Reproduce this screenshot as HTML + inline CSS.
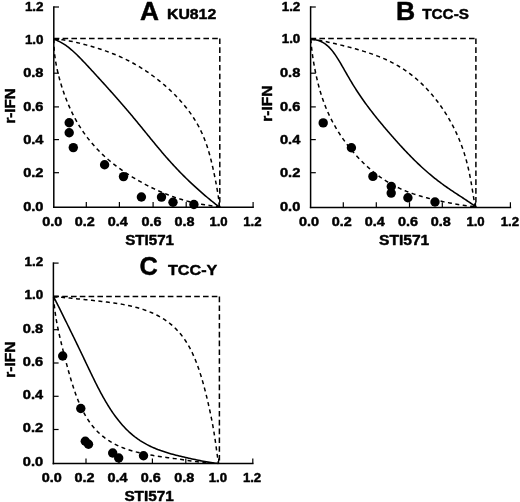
<!DOCTYPE html>
<html><head><meta charset="utf-8"><title>Isobolograms</title>
<style>
html,body{margin:0;padding:0;background:#fff;}
body{width:520px;height:502px;overflow:hidden;}
svg{display:block;}
text{font-family:"Liberation Sans",sans-serif;font-weight:bold;fill:#000;stroke:#000;stroke-width:0.45px;stroke-linejoin:round;}
</style></head><body>
<svg width="520" height="502" viewBox="0 0 520 502">
<defs><filter id="soft" x="0" y="0" width="520" height="502" filterUnits="userSpaceOnUse"><feGaussianBlur stdDeviation="0.3"/></filter></defs>
<rect x="0" y="0" width="520" height="502" fill="#fff"/>
<g filter="url(#soft)">
<line x1="53.80" y1="6.25" x2="53.80" y2="207.95" stroke="#000" stroke-width="1.50"/>
<line x1="53.05" y1="207.20" x2="253.85" y2="207.20" stroke="#000" stroke-width="1.50"/>
<line x1="86.30" y1="207.20" x2="86.30" y2="202.00" stroke="#000" stroke-width="1.20"/>
<line x1="119.40" y1="207.20" x2="119.40" y2="202.00" stroke="#000" stroke-width="1.20"/>
<line x1="153.10" y1="207.20" x2="153.10" y2="202.00" stroke="#000" stroke-width="1.20"/>
<line x1="186.20" y1="207.20" x2="186.20" y2="202.00" stroke="#000" stroke-width="1.20"/>
<line x1="219.30" y1="207.20" x2="219.30" y2="202.00" stroke="#000" stroke-width="1.20"/>
<line x1="253.10" y1="207.20" x2="253.10" y2="202.00" stroke="#000" stroke-width="1.20"/>
<line x1="53.80" y1="172.70" x2="59.00" y2="172.70" stroke="#000" stroke-width="1.20"/>
<line x1="53.80" y1="139.60" x2="59.00" y2="139.60" stroke="#000" stroke-width="1.20"/>
<line x1="53.80" y1="106.90" x2="59.00" y2="106.90" stroke="#000" stroke-width="1.20"/>
<line x1="53.80" y1="73.20" x2="59.00" y2="73.20" stroke="#000" stroke-width="1.20"/>
<line x1="53.80" y1="39.40" x2="59.00" y2="39.40" stroke="#000" stroke-width="1.20"/>
<line x1="53.80" y1="7.00" x2="59.00" y2="7.00" stroke="#000" stroke-width="1.20"/>
<line x1="53.80" y1="38.50" x2="220.40" y2="38.50" stroke="#000" stroke-width="1.50" stroke-dasharray="5.6 3.2"/>
<line x1="219.80" y1="38.50" x2="219.80" y2="207.20" stroke="#000" stroke-width="1.50" stroke-dasharray="5.6 3.2"/>
<path d="M53.90,39.30 L55.22,39.27 L56.61,39.29 L58.05,39.37 L59.54,39.48 L61.07,39.64 L62.64,39.83 L64.24,40.06 L65.86,40.32 L67.51,40.60 L69.17,40.91 L70.85,41.24 L72.54,41.59 L74.23,41.95 L75.93,42.33 L77.63,42.73 L79.33,43.14 L81.02,43.56 L82.71,43.99 L84.40,44.43 L86.08,44.88 L87.74,45.34 L89.40,45.81 L91.05,46.28 L92.69,46.76 L94.31,47.25 L95.93,47.74 L97.53,48.25 L99.12,48.75 L100.69,49.27 L102.26,49.79 L103.81,50.32 L105.35,50.86 L106.87,51.41 L108.39,51.96 L109.90,52.52 L111.39,53.10 L112.87,53.68 L114.35,54.27 L115.81,54.87 L117.26,55.48 L118.71,56.10 L120.15,56.73 L121.58,57.38 L123.00,58.03 L124.42,58.70 L125.83,59.38 L127.23,60.08 L128.63,60.78 L130.02,61.50 L131.41,62.24 L132.79,62.99 L134.17,63.75 L135.55,64.53 L136.92,65.32 L138.28,66.13 L139.65,66.95 L141.01,67.79 L142.36,68.64 L143.72,69.51 L145.07,70.39 L146.41,71.29 L147.76,72.20 L149.10,73.13 L150.43,74.08 L151.76,75.03 L153.09,76.01 L154.41,76.99 L155.73,77.99 L157.04,79.01 L158.35,80.04 L159.65,81.08 L160.94,82.14 L162.23,83.21 L163.50,84.29 L164.77,85.39 L166.04,86.50 L167.29,87.62 L168.53,88.75 L169.77,89.89 L170.99,91.05 L172.20,92.21 L173.40,93.39 L174.59,94.57 L175.77,95.77 L176.93,96.98 L178.07,98.19 L179.21,99.42 L180.32,100.65 L181.43,101.89 L182.51,103.14 L183.58,104.40 L184.63,105.66 L185.67,106.94 L186.69,108.22 L187.68,109.51 L188.66,110.80 L189.63,112.10 L190.57,113.41 L191.49,114.73 L192.39,116.05 L193.27,117.38 L194.14,118.72 L194.98,120.06 L195.80,121.41 L196.60,122.77 L197.39,124.14 L198.15,125.51 L198.89,126.89 L199.61,128.27 L200.31,129.67 L201.00,131.07 L201.66,132.48 L202.31,133.90 L202.93,135.32 L203.54,136.76 L204.13,138.20 L204.71,139.66 L205.27,141.12 L205.81,142.59 L206.33,144.08 L206.85,145.57 L207.34,147.07 L207.83,148.59 L208.30,150.11 L208.76,151.65 L209.21,153.20 L209.64,154.76 L210.07,156.33 L210.49,157.91 L210.90,159.51 L211.30,161.11 L211.69,162.73 L212.08,164.35 L212.45,165.99 L212.83,167.64 L213.20,169.30 L213.56,170.97 L213.92,172.64 L214.27,174.33 L214.62,176.02 L214.96,177.71 L215.30,179.41 L215.63,181.11 L215.96,182.82 L216.28,184.52 L216.60,186.22 L216.90,187.92 L217.20,189.61 L217.49,191.28 L217.76,192.95 L218.02,194.60 L218.27,196.22 L218.49,197.83 L218.70,199.41 L218.88,200.95 L219.04,202.46 L219.16,203.92 L219.25,205.34 L219.30,206.70" fill="none" stroke="#000" stroke-width="1.50" stroke-linejoin="round" stroke-dasharray="4.0 3.5"/>
<path d="M53.90,39.30 L53.88,41.05 L53.88,42.77 L53.92,44.47 L53.98,46.15 L54.06,47.81 L54.17,49.44 L54.29,51.07 L54.44,52.68 L54.62,54.28 L54.80,55.87 L55.01,57.45 L55.24,59.02 L55.48,60.59 L55.74,62.16 L56.02,63.72 L56.31,65.27 L56.62,66.83 L56.94,68.38 L57.28,69.93 L57.63,71.48 L57.99,73.03 L58.37,74.58 L58.76,76.13 L59.17,77.68 L59.58,79.23 L60.02,80.78 L60.46,82.33 L60.92,83.88 L61.39,85.43 L61.87,86.98 L62.37,88.52 L62.88,90.07 L63.41,91.61 L63.94,93.16 L64.49,94.70 L65.06,96.23 L65.63,97.77 L66.22,99.30 L66.83,100.83 L67.45,102.35 L68.08,103.87 L68.72,105.38 L69.38,106.89 L70.06,108.39 L70.75,109.88 L71.45,111.37 L72.16,112.85 L72.90,114.32 L73.64,115.79 L74.40,117.24 L75.18,118.69 L75.96,120.13 L76.77,121.55 L77.59,122.97 L78.42,124.38 L79.27,125.78 L80.13,127.16 L81.01,128.54 L81.90,129.90 L82.81,131.26 L83.73,132.60 L84.66,133.92 L85.61,135.24 L86.58,136.55 L87.56,137.84 L88.55,139.12 L89.56,140.38 L90.58,141.64 L91.61,142.88 L92.66,144.11 L93.73,145.33 L94.80,146.53 L95.89,147.72 L96.99,148.90 L98.11,150.06 L99.24,151.21 L100.38,152.35 L101.53,153.48 L102.70,154.60 L103.88,155.70 L105.07,156.79 L106.27,157.86 L107.48,158.93 L108.71,159.98 L109.94,161.03 L111.19,162.06 L112.44,163.07 L113.71,164.08 L114.99,165.08 L116.27,166.06 L117.57,167.03 L118.87,167.99 L120.18,168.95 L121.51,169.89 L122.84,170.82 L124.18,171.74 L125.52,172.64 L126.88,173.54 L128.24,174.43 L129.61,175.31 L130.99,176.18 L132.37,177.03 L133.77,177.88 L135.16,178.72 L136.57,179.55 L137.98,180.37 L139.39,181.17 L140.82,181.97 L142.24,182.76 L143.68,183.54 L145.11,184.30 L146.56,185.06 L148.01,185.81 L149.46,186.55 L150.92,187.27 L152.38,187.99 L153.85,188.69 L155.32,189.39 L156.80,190.07 L158.28,190.74 L159.76,191.40 L161.25,192.05 L162.75,192.69 L164.24,193.31 L165.75,193.93 L167.25,194.53 L168.76,195.12 L170.28,195.69 L171.79,196.25 L173.32,196.80 L174.84,197.34 L176.37,197.86 L177.91,198.36 L179.45,198.86 L180.99,199.34 L182.54,199.80 L184.09,200.25 L185.64,200.69 L187.20,201.11 L188.77,201.51 L190.34,201.91 L191.91,202.28 L193.49,202.64 L195.07,202.99 L196.66,203.32 L198.25,203.64 L199.84,203.95 L201.44,204.24 L203.05,204.51 L204.66,204.78 L206.27,205.03 L207.89,205.27 L209.51,205.50 L211.13,205.72 L212.76,205.93 L214.39,206.13 L216.02,206.33 L217.66,206.52 L219.30,206.70" fill="none" stroke="#000" stroke-width="1.50" stroke-linejoin="round" stroke-dasharray="4.0 3.5"/>
<path d="M53.90,39.30 L55.38,39.80 L56.81,40.36 L58.21,40.97 L59.57,41.63 L60.89,42.32 L62.19,43.06 L63.46,43.83 L64.70,44.64 L65.92,45.48 L67.11,46.34 L68.29,47.23 L69.44,48.15 L70.58,49.09 L71.71,50.04 L72.82,51.02 L73.92,52.01 L75.00,53.01 L76.08,54.03 L77.15,55.06 L78.21,56.10 L79.26,57.15 L80.31,58.20 L81.35,59.27 L82.38,60.34 L83.41,61.42 L84.44,62.50 L85.46,63.58 L86.48,64.67 L87.50,65.76 L88.51,66.85 L89.53,67.95 L90.54,69.05 L91.55,70.15 L92.56,71.25 L93.56,72.35 L94.57,73.45 L95.58,74.55 L96.58,75.66 L97.59,76.76 L98.59,77.87 L99.59,78.97 L100.60,80.07 L101.60,81.18 L102.60,82.28 L103.60,83.39 L104.60,84.49 L105.60,85.60 L106.60,86.70 L107.59,87.81 L108.59,88.92 L109.59,90.02 L110.58,91.13 L111.57,92.24 L112.56,93.35 L113.55,94.46 L114.54,95.58 L115.53,96.69 L116.51,97.80 L117.50,98.92 L118.48,100.04 L119.46,101.16 L120.44,102.28 L121.41,103.40 L122.39,104.52 L123.36,105.65 L124.33,106.77 L125.30,107.90 L126.27,109.03 L127.23,110.17 L128.20,111.30 L129.16,112.44 L130.11,113.58 L131.07,114.71 L132.03,115.86 L132.98,117.00 L133.93,118.14 L134.88,119.29 L135.83,120.44 L136.78,121.59 L137.73,122.74 L138.67,123.89 L139.62,125.04 L140.56,126.19 L141.50,127.35 L142.44,128.50 L143.38,129.66 L144.32,130.81 L145.26,131.97 L146.21,133.12 L147.15,134.28 L148.09,135.43 L149.03,136.59 L149.97,137.74 L150.91,138.90 L151.85,140.05 L152.80,141.20 L153.74,142.36 L154.69,143.50 L155.64,144.65 L156.59,145.80 L157.54,146.94 L158.50,148.09 L159.45,149.23 L160.41,150.37 L161.37,151.50 L162.34,152.63 L163.30,153.76 L164.27,154.89 L165.25,156.02 L166.23,157.14 L167.21,158.26 L168.19,159.37 L169.18,160.48 L170.17,161.59 L171.17,162.69 L172.17,163.79 L173.17,164.89 L174.18,165.98 L175.19,167.07 L176.21,168.15 L177.23,169.23 L178.25,170.31 L179.28,171.38 L180.32,172.45 L181.36,173.51 L182.40,174.57 L183.45,175.62 L184.51,176.67 L185.57,177.72 L186.63,178.76 L187.70,179.80 L188.77,180.83 L189.85,181.86 L190.93,182.89 L192.01,183.91 L193.10,184.92 L194.20,185.93 L195.30,186.94 L196.40,187.94 L197.51,188.94 L198.62,189.94 L199.74,190.93 L200.86,191.92 L201.98,192.90 L203.11,193.87 L204.24,194.85 L205.38,195.82 L206.51,196.78 L207.66,197.74 L208.80,198.69 L209.96,199.64 L211.11,200.58 L212.27,201.52 L213.43,202.45 L214.60,203.37 L215.77,204.29 L216.94,205.20 L218.12,206.11 L219.30,207.00" fill="none" stroke="#000" stroke-width="1.55" stroke-linejoin="round"/>
<circle cx="69.20" cy="122.80" r="4.70" fill="#000"/>
<circle cx="69.20" cy="132.80" r="4.70" fill="#000"/>
<circle cx="73.30" cy="147.60" r="4.70" fill="#000"/>
<circle cx="104.60" cy="164.70" r="4.70" fill="#000"/>
<circle cx="123.50" cy="176.60" r="4.70" fill="#000"/>
<circle cx="141.40" cy="197.00" r="4.70" fill="#000"/>
<circle cx="161.50" cy="197.10" r="4.70" fill="#000"/>
<circle cx="173.00" cy="202.30" r="4.70" fill="#000"/>
<circle cx="193.90" cy="204.50" r="4.70" fill="#000"/>
<text x="42.20" y="225.80" font-size="12.10" textLength="20.00" lengthAdjust="spacingAndGlyphs">0.0</text>
<text x="74.70" y="225.80" font-size="12.10" textLength="20.00" lengthAdjust="spacingAndGlyphs">0.2</text>
<text x="107.80" y="225.80" font-size="12.10" textLength="20.00" lengthAdjust="spacingAndGlyphs">0.4</text>
<text x="141.50" y="225.80" font-size="12.10" textLength="20.00" lengthAdjust="spacingAndGlyphs">0.6</text>
<text x="174.60" y="225.80" font-size="12.10" textLength="20.00" lengthAdjust="spacingAndGlyphs">0.8</text>
<text x="209.40" y="225.80" font-size="12.10" textLength="18.30" lengthAdjust="spacingAndGlyphs">1.0</text>
<text x="243.20" y="225.80" font-size="12.10" textLength="18.30" lengthAdjust="spacingAndGlyphs">1.2</text>
<text x="23.20" y="211.35" font-size="12.10" textLength="20.30" lengthAdjust="spacingAndGlyphs">0.0</text>
<text x="23.20" y="176.85" font-size="12.10" textLength="20.30" lengthAdjust="spacingAndGlyphs">0.2</text>
<text x="23.20" y="143.75" font-size="12.10" textLength="20.30" lengthAdjust="spacingAndGlyphs">0.4</text>
<text x="23.20" y="111.05" font-size="12.10" textLength="20.30" lengthAdjust="spacingAndGlyphs">0.6</text>
<text x="23.20" y="77.35" font-size="12.10" textLength="20.30" lengthAdjust="spacingAndGlyphs">0.8</text>
<text x="24.90" y="43.55" font-size="12.10" textLength="18.60" lengthAdjust="spacingAndGlyphs">1.0</text>
<text x="24.90" y="11.15" font-size="12.10" textLength="18.60" lengthAdjust="spacingAndGlyphs">1.2</text>
<text x="125.20" y="245.20" font-size="14.00" textLength="48.80" lengthAdjust="spacingAndGlyphs">STI571</text>
<text x="0" y="0" font-size="15" textLength="35.40" lengthAdjust="spacingAndGlyphs" transform="translate(15.30,123.60) rotate(-90)">r-IFN</text>
<text x="140.00" y="19.60" font-size="25" textLength="19.00" lengthAdjust="spacingAndGlyphs">A</text>
<text x="167.00" y="19.00" font-size="14.80" textLength="49.20" lengthAdjust="spacingAndGlyphs">KU812</text>
<line x1="310.60" y1="6.25" x2="310.60" y2="208.15" stroke="#000" stroke-width="1.50"/>
<line x1="309.85" y1="207.40" x2="511.15" y2="207.40" stroke="#000" stroke-width="1.50"/>
<line x1="343.30" y1="207.40" x2="343.30" y2="202.20" stroke="#000" stroke-width="1.20"/>
<line x1="376.30" y1="207.40" x2="376.30" y2="202.20" stroke="#000" stroke-width="1.20"/>
<line x1="409.50" y1="207.40" x2="409.50" y2="202.20" stroke="#000" stroke-width="1.20"/>
<line x1="442.30" y1="207.40" x2="442.30" y2="202.20" stroke="#000" stroke-width="1.20"/>
<line x1="475.50" y1="207.40" x2="475.50" y2="202.20" stroke="#000" stroke-width="1.20"/>
<line x1="510.40" y1="207.40" x2="510.40" y2="202.20" stroke="#000" stroke-width="1.20"/>
<line x1="310.60" y1="172.70" x2="315.80" y2="172.70" stroke="#000" stroke-width="1.20"/>
<line x1="310.60" y1="139.60" x2="315.80" y2="139.60" stroke="#000" stroke-width="1.20"/>
<line x1="310.60" y1="106.90" x2="315.80" y2="106.90" stroke="#000" stroke-width="1.20"/>
<line x1="310.60" y1="73.20" x2="315.80" y2="73.20" stroke="#000" stroke-width="1.20"/>
<line x1="310.60" y1="39.40" x2="315.80" y2="39.40" stroke="#000" stroke-width="1.20"/>
<line x1="310.60" y1="7.00" x2="315.80" y2="7.00" stroke="#000" stroke-width="1.20"/>
<line x1="310.60" y1="38.50" x2="476.50" y2="38.50" stroke="#000" stroke-width="1.50" stroke-dasharray="5.6 3.2"/>
<line x1="475.90" y1="38.50" x2="475.90" y2="207.40" stroke="#000" stroke-width="1.50" stroke-dasharray="5.6 3.2"/>
<path d="M310.90,39.30 L312.49,39.45 L314.08,39.62 L315.67,39.83 L317.26,40.06 L318.84,40.31 L320.43,40.58 L322.01,40.87 L323.60,41.17 L325.18,41.48 L326.77,41.81 L328.36,42.15 L329.94,42.49 L331.53,42.85 L333.12,43.21 L334.70,43.58 L336.29,43.95 L337.88,44.33 L339.46,44.72 L341.05,45.11 L342.64,45.50 L344.22,45.90 L345.81,46.31 L347.39,46.71 L348.97,47.13 L350.55,47.55 L352.13,47.97 L353.71,48.40 L355.29,48.83 L356.86,49.28 L358.43,49.72 L360.00,50.18 L361.56,50.64 L363.12,51.12 L364.68,51.60 L366.23,52.09 L367.77,52.59 L369.32,53.10 L370.85,53.62 L372.39,54.15 L373.91,54.70 L375.43,55.25 L376.95,55.83 L378.45,56.41 L379.95,57.01 L381.45,57.62 L382.93,58.25 L384.41,58.89 L385.88,59.55 L387.35,60.23 L388.80,60.92 L390.25,61.62 L391.68,62.35 L393.11,63.09 L394.53,63.85 L395.94,64.63 L397.34,65.42 L398.73,66.23 L400.11,67.06 L401.48,67.91 L402.83,68.78 L404.18,69.66 L405.52,70.56 L406.85,71.49 L408.16,72.42 L409.46,73.38 L410.76,74.35 L412.04,75.34 L413.31,76.35 L414.56,77.38 L415.81,78.42 L417.04,79.48 L418.26,80.55 L419.47,81.64 L420.67,82.75 L421.85,83.87 L423.02,85.01 L424.18,86.16 L425.33,87.33 L426.46,88.51 L427.58,89.70 L428.69,90.91 L429.79,92.13 L430.87,93.36 L431.93,94.60 L432.99,95.86 L434.03,97.13 L435.06,98.41 L436.08,99.69 L437.08,100.99 L438.06,102.30 L439.04,103.62 L440.00,104.94 L440.95,106.28 L441.88,107.62 L442.80,108.97 L443.71,110.33 L444.60,111.70 L445.48,113.07 L446.34,114.45 L447.20,115.84 L448.03,117.23 L448.86,118.63 L449.67,120.03 L450.46,121.44 L451.24,122.86 L452.01,124.28 L452.76,125.71 L453.50,127.14 L454.23,128.58 L454.94,130.02 L455.64,131.47 L456.32,132.92 L456.99,134.38 L457.64,135.85 L458.28,137.32 L458.91,138.79 L459.52,140.27 L460.12,141.76 L460.70,143.25 L461.27,144.75 L461.83,146.25 L462.37,147.76 L462.90,149.27 L463.42,150.79 L463.92,152.32 L464.41,153.86 L464.89,155.40 L465.35,156.95 L465.80,158.50 L466.23,160.06 L466.66,161.63 L467.07,163.21 L467.47,164.79 L467.86,166.38 L468.23,167.97 L468.60,169.57 L468.95,171.18 L469.30,172.80 L469.63,174.42 L469.96,176.04 L470.27,177.67 L470.58,179.30 L470.88,180.94 L471.17,182.58 L471.45,184.22 L471.73,185.86 L472.00,187.50 L472.27,189.14 L472.54,190.78 L472.80,192.41 L473.06,194.03 L473.32,195.65 L473.58,197.25 L473.84,198.84 L474.10,200.42 L474.36,201.97 L474.64,203.51 L474.91,205.02 L475.20,206.50" fill="none" stroke="#000" stroke-width="1.50" stroke-linejoin="round" stroke-dasharray="4.0 3.5"/>
<path d="M310.90,39.30 L310.97,40.72 L311.06,42.19 L311.17,43.70 L311.31,45.25 L311.46,46.83 L311.64,48.43 L311.83,50.07 L312.04,51.72 L312.26,53.38 L312.49,55.06 L312.74,56.75 L313.00,58.45 L313.27,60.15 L313.56,61.85 L313.85,63.55 L314.15,65.25 L314.46,66.95 L314.78,68.64 L315.11,70.33 L315.45,72.01 L315.80,73.68 L316.15,75.34 L316.52,77.00 L316.89,78.64 L317.27,80.27 L317.67,81.90 L318.07,83.51 L318.48,85.11 L318.90,86.71 L319.33,88.29 L319.78,89.86 L320.23,91.42 L320.70,92.97 L321.17,94.51 L321.66,96.04 L322.16,97.56 L322.67,99.07 L323.20,100.57 L323.74,102.06 L324.29,103.55 L324.85,105.03 L325.43,106.50 L326.02,107.96 L326.63,109.42 L327.25,110.87 L327.89,112.31 L328.54,113.75 L329.21,115.18 L329.89,116.61 L330.59,118.03 L331.30,119.45 L332.03,120.86 L332.77,122.27 L333.54,123.67 L334.31,125.07 L335.11,126.47 L335.91,127.86 L336.74,129.24 L337.58,130.62 L338.44,132.00 L339.31,133.37 L340.20,134.74 L341.10,136.10 L342.02,137.46 L342.96,138.81 L343.91,140.16 L344.87,141.50 L345.85,142.83 L346.85,144.16 L347.86,145.48 L348.89,146.79 L349.93,148.09 L350.98,149.39 L352.05,150.68 L353.13,151.95 L354.22,153.22 L355.33,154.48 L356.45,155.73 L357.58,156.97 L358.72,158.19 L359.88,159.41 L361.05,160.61 L362.23,161.80 L363.42,162.97 L364.62,164.13 L365.84,165.28 L367.06,166.41 L368.30,167.52 L369.54,168.62 L370.80,169.71 L372.06,170.77 L373.34,171.82 L374.62,172.85 L375.92,173.87 L377.22,174.86 L378.53,175.84 L379.85,176.80 L381.18,177.74 L382.52,178.66 L383.87,179.56 L385.22,180.44 L386.59,181.31 L387.96,182.15 L389.34,182.97 L390.73,183.78 L392.13,184.56 L393.53,185.32 L394.95,186.07 L396.37,186.79 L397.80,187.50 L399.24,188.19 L400.69,188.86 L402.15,189.51 L403.61,190.14 L405.09,190.76 L406.57,191.36 L408.06,191.94 L409.56,192.50 L411.07,193.05 L412.59,193.59 L414.12,194.11 L415.66,194.61 L417.21,195.11 L418.76,195.59 L420.33,196.05 L421.90,196.51 L423.48,196.95 L425.08,197.39 L426.68,197.81 L428.29,198.22 L429.91,198.63 L431.53,199.03 L433.17,199.42 L434.81,199.80 L436.46,200.17 L438.12,200.54 L439.78,200.90 L441.45,201.26 L443.12,201.61 L444.79,201.95 L446.47,202.29 L448.15,202.62 L449.84,202.95 L451.52,203.27 L453.20,203.58 L454.88,203.89 L456.55,204.18 L458.21,204.47 L459.87,204.75 L461.52,205.01 L463.15,205.26 L464.77,205.49 L466.36,205.71 L467.94,205.91 L469.50,206.08 L471.02,206.23 L472.52,206.36 L473.98,206.45 L475.40,206.50" fill="none" stroke="#000" stroke-width="1.50" stroke-linejoin="round" stroke-dasharray="4.0 3.5"/>
<path d="M310.90,39.30 L312.72,39.41 L314.45,39.61 L316.08,39.91 L317.63,40.30 L319.11,40.77 L320.51,41.32 L321.85,41.94 L323.12,42.63 L324.34,43.38 L325.51,44.18 L326.62,45.04 L327.70,45.95 L328.73,46.91 L329.73,47.91 L330.69,48.95 L331.62,50.02 L332.53,51.13 L333.41,52.27 L334.27,53.43 L335.11,54.62 L335.94,55.83 L336.75,57.06 L337.55,58.31 L338.34,59.57 L339.12,60.85 L339.89,62.13 L340.65,63.43 L341.41,64.74 L342.17,66.05 L342.93,67.37 L343.68,68.69 L344.44,70.02 L345.19,71.34 L345.95,72.67 L346.71,74.00 L347.47,75.33 L348.24,76.65 L349.01,77.98 L349.78,79.30 L350.56,80.62 L351.35,81.93 L352.14,83.24 L352.93,84.54 L353.73,85.84 L354.54,87.14 L355.35,88.43 L356.17,89.71 L356.99,90.99 L357.82,92.26 L358.66,93.53 L359.50,94.79 L360.35,96.04 L361.20,97.29 L362.06,98.53 L362.93,99.77 L363.80,101.00 L364.68,102.22 L365.56,103.44 L366.44,104.65 L367.34,105.86 L368.23,107.07 L369.13,108.26 L370.04,109.46 L370.95,110.65 L371.86,111.83 L372.78,113.01 L373.71,114.19 L374.63,115.36 L375.56,116.53 L376.50,117.70 L377.43,118.86 L378.37,120.02 L379.32,121.17 L380.27,122.33 L381.22,123.48 L382.17,124.62 L383.13,125.77 L384.09,126.91 L385.05,128.05 L386.02,129.19 L386.99,130.33 L387.96,131.46 L388.93,132.60 L389.91,133.73 L390.89,134.86 L391.88,135.99 L392.87,137.11 L393.86,138.23 L394.85,139.36 L395.85,140.48 L396.85,141.59 L397.85,142.71 L398.86,143.82 L399.87,144.94 L400.89,146.05 L401.91,147.15 L402.93,148.26 L403.96,149.36 L404.99,150.46 L406.02,151.55 L407.06,152.64 L408.11,153.73 L409.16,154.82 L410.21,155.90 L411.27,156.98 L412.33,158.05 L413.40,159.12 L414.48,160.18 L415.56,161.24 L416.64,162.30 L417.73,163.34 L418.83,164.39 L419.93,165.42 L421.04,166.45 L422.15,167.48 L423.27,168.49 L424.40,169.51 L425.53,170.51 L426.66,171.51 L427.80,172.50 L428.95,173.48 L430.11,174.45 L431.27,175.42 L432.43,176.38 L433.60,177.33 L434.78,178.27 L435.96,179.20 L437.15,180.13 L438.34,181.05 L439.54,181.96 L440.74,182.86 L441.95,183.75 L443.16,184.64 L444.38,185.52 L445.60,186.39 L446.82,187.25 L448.05,188.11 L449.28,188.96 L450.52,189.80 L451.76,190.64 L453.00,191.47 L454.24,192.30 L455.49,193.12 L456.73,193.94 L457.98,194.76 L459.23,195.58 L460.48,196.39 L461.73,197.21 L462.98,198.02 L464.23,198.84 L465.48,199.66 L466.72,200.48 L467.97,201.31 L469.22,202.15 L470.46,203.00 L471.70,203.85 L472.93,204.72 L474.17,205.60 L475.40,206.50" fill="none" stroke="#000" stroke-width="1.55" stroke-linejoin="round"/>
<circle cx="323.20" cy="122.90" r="4.70" fill="#000"/>
<circle cx="351.40" cy="147.70" r="4.70" fill="#000"/>
<circle cx="372.90" cy="176.40" r="4.70" fill="#000"/>
<circle cx="391.30" cy="186.50" r="4.70" fill="#000"/>
<circle cx="391.20" cy="193.10" r="4.70" fill="#000"/>
<circle cx="407.90" cy="197.80" r="4.70" fill="#000"/>
<circle cx="435.00" cy="202.00" r="4.70" fill="#000"/>
<text x="299.00" y="225.80" font-size="12.10" textLength="20.00" lengthAdjust="spacingAndGlyphs">0.0</text>
<text x="331.70" y="225.80" font-size="12.10" textLength="20.00" lengthAdjust="spacingAndGlyphs">0.2</text>
<text x="364.70" y="225.80" font-size="12.10" textLength="20.00" lengthAdjust="spacingAndGlyphs">0.4</text>
<text x="397.90" y="225.80" font-size="12.10" textLength="20.00" lengthAdjust="spacingAndGlyphs">0.6</text>
<text x="430.70" y="225.80" font-size="12.10" textLength="20.00" lengthAdjust="spacingAndGlyphs">0.8</text>
<text x="466.40" y="225.80" font-size="12.10" textLength="18.30" lengthAdjust="spacingAndGlyphs">1.0</text>
<text x="500.80" y="225.80" font-size="12.10" textLength="18.30" lengthAdjust="spacingAndGlyphs">1.2</text>
<text x="280.00" y="211.45" font-size="12.10" textLength="20.30" lengthAdjust="spacingAndGlyphs">0.0</text>
<text x="280.00" y="176.75" font-size="12.10" textLength="20.30" lengthAdjust="spacingAndGlyphs">0.2</text>
<text x="280.00" y="143.65" font-size="12.10" textLength="20.30" lengthAdjust="spacingAndGlyphs">0.4</text>
<text x="280.00" y="110.95" font-size="12.10" textLength="20.30" lengthAdjust="spacingAndGlyphs">0.6</text>
<text x="280.00" y="77.25" font-size="12.10" textLength="20.30" lengthAdjust="spacingAndGlyphs">0.8</text>
<text x="281.70" y="43.45" font-size="12.10" textLength="18.60" lengthAdjust="spacingAndGlyphs">1.0</text>
<text x="281.70" y="11.05" font-size="12.10" textLength="18.60" lengthAdjust="spacingAndGlyphs">1.2</text>
<text x="379.00" y="244.60" font-size="14.00" textLength="50.20" lengthAdjust="spacingAndGlyphs">STI571</text>
<text x="0" y="0" font-size="15" textLength="36.20" lengthAdjust="spacingAndGlyphs" transform="translate(272.30,121.80) rotate(-90)">r-IFN</text>
<text x="396.10" y="19.60" font-size="25" textLength="19.20" lengthAdjust="spacingAndGlyphs">B</text>
<text x="422.20" y="19.40" font-size="14.80" textLength="46.80" lengthAdjust="spacingAndGlyphs">TCC-S</text>
<line x1="53.40" y1="262.35" x2="53.40" y2="464.35" stroke="#000" stroke-width="1.50"/>
<line x1="52.65" y1="463.60" x2="253.55" y2="463.60" stroke="#000" stroke-width="1.50"/>
<line x1="86.00" y1="463.60" x2="86.00" y2="458.40" stroke="#000" stroke-width="1.20"/>
<line x1="119.00" y1="463.60" x2="119.00" y2="458.40" stroke="#000" stroke-width="1.20"/>
<line x1="152.40" y1="463.60" x2="152.40" y2="458.40" stroke="#000" stroke-width="1.20"/>
<line x1="185.80" y1="463.60" x2="185.80" y2="458.40" stroke="#000" stroke-width="1.20"/>
<line x1="218.60" y1="463.60" x2="218.60" y2="458.40" stroke="#000" stroke-width="1.20"/>
<line x1="252.80" y1="463.60" x2="252.80" y2="458.40" stroke="#000" stroke-width="1.20"/>
<line x1="53.40" y1="429.50" x2="58.60" y2="429.50" stroke="#000" stroke-width="1.20"/>
<line x1="53.40" y1="396.30" x2="58.60" y2="396.30" stroke="#000" stroke-width="1.20"/>
<line x1="53.40" y1="363.00" x2="58.60" y2="363.00" stroke="#000" stroke-width="1.20"/>
<line x1="53.40" y1="329.70" x2="58.60" y2="329.70" stroke="#000" stroke-width="1.20"/>
<line x1="53.40" y1="296.20" x2="58.60" y2="296.20" stroke="#000" stroke-width="1.20"/>
<line x1="53.40" y1="263.10" x2="58.60" y2="263.10" stroke="#000" stroke-width="1.20"/>
<line x1="53.40" y1="296.60" x2="220.00" y2="296.60" stroke="#000" stroke-width="1.50" stroke-dasharray="5.6 3.2"/>
<line x1="219.40" y1="296.60" x2="219.40" y2="463.60" stroke="#000" stroke-width="1.50" stroke-dasharray="5.6 3.2"/>
<path d="M53.60,296.90 L55.71,297.00 L57.72,297.11 L59.66,297.23 L61.52,297.36 L63.32,297.50 L65.07,297.64 L66.77,297.79 L68.43,297.95 L70.05,298.10 L71.65,298.26 L73.23,298.42 L74.80,298.58 L76.35,298.74 L77.89,298.90 L79.43,299.06 L80.97,299.22 L82.51,299.38 L84.06,299.54 L85.61,299.70 L87.17,299.86 L88.74,300.02 L90.32,300.19 L91.91,300.35 L93.52,300.52 L95.14,300.69 L96.78,300.86 L98.42,301.04 L100.09,301.23 L101.76,301.41 L103.45,301.61 L105.15,301.81 L106.86,302.02 L108.59,302.24 L110.32,302.46 L112.07,302.70 L113.82,302.95 L115.58,303.21 L117.35,303.48 L119.12,303.77 L120.89,304.07 L122.67,304.38 L124.44,304.72 L126.22,305.06 L127.99,305.43 L129.76,305.81 L131.53,306.22 L133.28,306.64 L135.04,307.08 L136.78,307.55 L138.51,308.04 L140.23,308.54 L141.94,309.08 L143.63,309.63 L145.31,310.21 L146.97,310.82 L148.62,311.44 L150.24,312.10 L151.85,312.78 L153.44,313.49 L155.00,314.22 L156.54,314.98 L158.06,315.76 L159.56,316.58 L161.03,317.42 L162.48,318.29 L163.90,319.18 L165.30,320.11 L166.67,321.06 L168.01,322.04 L169.33,323.04 L170.62,324.08 L171.88,325.14 L173.11,326.22 L174.32,327.34 L175.50,328.48 L176.65,329.64 L177.78,330.84 L178.88,332.05 L179.95,333.30 L181.00,334.56 L182.02,335.85 L183.01,337.17 L183.98,338.51 L184.92,339.87 L185.84,341.25 L186.73,342.65 L187.60,344.08 L188.45,345.52 L189.27,346.99 L190.07,348.47 L190.86,349.97 L191.62,351.49 L192.36,353.02 L193.08,354.57 L193.78,356.14 L194.46,357.72 L195.13,359.31 L195.78,360.92 L196.41,362.53 L197.02,364.16 L197.63,365.80 L198.21,367.45 L198.79,369.10 L199.35,370.77 L199.90,372.44 L200.43,374.11 L200.96,375.80 L201.47,377.48 L201.97,379.18 L202.46,380.87 L202.95,382.57 L203.42,384.26 L203.88,385.96 L204.34,387.66 L204.79,389.36 L205.23,391.06 L205.66,392.76 L206.09,394.46 L206.51,396.15 L206.92,397.84 L207.32,399.53 L207.72,401.21 L208.11,402.89 L208.49,404.57 L208.87,406.24 L209.24,407.91 L209.61,409.57 L209.96,411.23 L210.31,412.88 L210.66,414.53 L211.00,416.18 L211.33,417.82 L211.65,419.45 L211.97,421.08 L212.28,422.71 L212.58,424.34 L212.88,425.96 L213.17,427.58 L213.45,429.20 L213.73,430.81 L213.99,432.43 L214.26,434.05 L214.51,435.67 L214.76,437.30 L215.01,438.92 L215.25,440.56 L215.49,442.20 L215.72,443.84 L215.95,445.50 L216.18,447.17 L216.41,448.85 L216.63,450.55 L216.86,452.26 L217.10,453.99 L217.34,455.74 L217.59,457.52 L217.84,459.32 L218.11,461.14 L218.40,463.00" fill="none" stroke="#000" stroke-width="1.50" stroke-linejoin="round" stroke-dasharray="4.0 3.5"/>
<path d="M53.60,296.90 L53.73,298.71 L53.87,300.50 L54.02,302.27 L54.18,304.01 L54.35,305.74 L54.54,307.44 L54.74,309.14 L54.95,310.81 L55.17,312.48 L55.40,314.13 L55.65,315.78 L55.90,317.41 L56.17,319.04 L56.45,320.66 L56.74,322.28 L57.04,323.89 L57.35,325.50 L57.67,327.11 L58.00,328.72 L58.33,330.32 L58.68,331.93 L59.03,333.54 L59.39,335.15 L59.76,336.77 L60.13,338.38 L60.51,340.01 L60.90,341.63 L61.29,343.26 L61.69,344.90 L62.09,346.54 L62.50,348.18 L62.91,349.83 L63.33,351.49 L63.75,353.15 L64.18,354.81 L64.61,356.49 L65.04,358.16 L65.48,359.84 L65.92,361.53 L66.37,363.22 L66.82,364.91 L67.28,366.61 L67.74,368.31 L68.21,370.01 L68.68,371.72 L69.16,373.42 L69.65,375.13 L70.14,376.83 L70.64,378.54 L71.15,380.24 L71.66,381.94 L72.19,383.64 L72.72,385.34 L73.26,387.03 L73.82,388.71 L74.38,390.39 L74.96,392.06 L75.54,393.72 L76.15,395.38 L76.76,397.02 L77.39,398.65 L78.03,400.28 L78.69,401.88 L79.37,403.48 L80.06,405.06 L80.77,406.63 L81.50,408.18 L82.25,409.71 L83.02,411.23 L83.80,412.72 L84.61,414.20 L85.44,415.66 L86.29,417.09 L87.17,418.51 L88.07,419.90 L88.99,421.27 L89.93,422.61 L90.90,423.93 L91.90,425.23 L92.92,426.50 L93.96,427.74 L95.03,428.96 L96.13,430.15 L97.25,431.31 L98.40,432.44 L99.58,433.55 L100.78,434.63 L102.01,435.67 L103.27,436.69 L104.55,437.69 L105.86,438.65 L107.19,439.58 L108.55,440.49 L109.93,441.36 L111.34,442.21 L112.78,443.03 L114.23,443.82 L115.72,444.58 L117.22,445.31 L118.75,446.02 L120.29,446.70 L121.86,447.35 L123.45,447.98 L125.05,448.58 L126.68,449.16 L128.32,449.71 L129.98,450.24 L131.65,450.74 L133.34,451.23 L135.03,451.69 L136.74,452.13 L138.46,452.56 L140.19,452.96 L141.93,453.35 L143.68,453.72 L145.43,454.07 L147.18,454.41 L148.94,454.74 L150.70,455.05 L152.45,455.35 L154.21,455.64 L155.97,455.92 L157.72,456.20 L159.47,456.46 L161.22,456.72 L162.95,456.97 L164.68,457.21 L166.41,457.46 L168.12,457.69 L169.82,457.93 L171.52,458.16 L173.20,458.40 L174.87,458.63 L176.54,458.86 L178.19,459.09 L179.83,459.32 L181.46,459.55 L183.08,459.78 L184.69,460.02 L186.29,460.25 L187.88,460.48 L189.47,460.72 L191.05,460.95 L192.63,461.18 L194.21,461.40 L195.79,461.63 L197.38,461.84 L198.98,462.06 L200.58,462.26 L202.21,462.45 L203.85,462.63 L205.52,462.79 L207.22,462.93 L208.95,463.05 L210.73,463.15 L212.56,463.22 L214.44,463.25 L216.38,463.25 L218.40,463.20" fill="none" stroke="#000" stroke-width="1.50" stroke-linejoin="round" stroke-dasharray="4.0 3.5"/>
<path d="M53.60,296.90 L54.25,298.12 L54.92,299.39 L55.61,300.70 L56.30,302.05 L57.00,303.43 L57.71,304.83 L58.43,306.26 L59.15,307.70 L59.88,309.16 L60.61,310.63 L61.34,312.11 L62.07,313.59 L62.81,315.08 L63.54,316.57 L64.27,318.06 L65.01,319.55 L65.74,321.04 L66.47,322.52 L67.19,324.00 L67.91,325.47 L68.63,326.94 L69.35,328.40 L70.06,329.86 L70.77,331.30 L71.48,332.75 L72.18,334.18 L72.88,335.61 L73.58,337.03 L74.27,338.45 L74.95,339.86 L75.64,341.27 L76.32,342.67 L76.99,344.07 L77.67,345.46 L78.34,346.85 L79.01,348.24 L79.68,349.62 L80.34,351.00 L81.00,352.39 L81.67,353.77 L82.33,355.15 L82.99,356.53 L83.65,357.91 L84.30,359.30 L84.96,360.68 L85.62,362.07 L86.28,363.46 L86.95,364.85 L87.61,366.25 L88.28,367.65 L88.95,369.05 L89.62,370.45 L90.29,371.86 L90.97,373.27 L91.65,374.69 L92.34,376.10 L93.03,377.52 L93.73,378.95 L94.43,380.37 L95.14,381.80 L95.85,383.23 L96.57,384.67 L97.30,386.10 L98.03,387.54 L98.78,388.97 L99.53,390.41 L100.29,391.84 L101.05,393.28 L101.83,394.71 L102.61,396.14 L103.41,397.56 L104.21,398.99 L105.02,400.40 L105.85,401.82 L106.68,403.22 L107.53,404.62 L108.39,406.02 L109.25,407.40 L110.13,408.77 L111.02,410.14 L111.93,411.49 L112.84,412.83 L113.77,414.16 L114.71,415.47 L115.66,416.78 L116.63,418.06 L117.61,419.33 L118.60,420.59 L119.60,421.82 L120.62,423.04 L121.65,424.24 L122.70,425.42 L123.76,426.58 L124.84,427.73 L125.92,428.85 L127.03,429.94 L128.14,431.02 L129.27,432.08 L130.42,433.11 L131.58,434.12 L132.75,435.11 L133.94,436.07 L135.14,437.01 L136.36,437.92 L137.59,438.82 L138.84,439.68 L140.10,440.53 L141.38,441.35 L142.67,442.15 L143.97,442.92 L145.29,443.68 L146.62,444.41 L147.97,445.11 L149.33,445.80 L150.71,446.46 L152.10,447.11 L153.50,447.73 L154.91,448.33 L156.34,448.92 L157.78,449.49 L159.24,450.03 L160.70,450.57 L162.18,451.08 L163.67,451.59 L165.17,452.07 L166.69,452.55 L168.21,453.01 L169.74,453.46 L171.29,453.89 L172.84,454.32 L174.40,454.74 L175.97,455.15 L177.55,455.55 L179.14,455.95 L180.73,456.34 L182.33,456.72 L183.93,457.10 L185.54,457.47 L187.15,457.84 L188.77,458.20 L190.38,458.56 L192.00,458.92 L193.62,459.27 L195.23,459.61 L196.85,459.95 L198.46,460.29 L200.06,460.62 L201.66,460.94 L203.25,461.25 L204.84,461.55 L206.41,461.84 L207.97,462.12 L209.51,462.37 L211.05,462.61 L212.56,462.83 L214.05,463.02 L215.53,463.18 L216.98,463.31 L218.40,463.40" fill="none" stroke="#000" stroke-width="1.55" stroke-linejoin="round"/>
<circle cx="62.70" cy="356.00" r="4.70" fill="#000"/>
<circle cx="80.80" cy="408.50" r="4.70" fill="#000"/>
<circle cx="85.30" cy="441.20" r="4.70" fill="#000"/>
<circle cx="88.50" cy="444.20" r="4.70" fill="#000"/>
<circle cx="112.70" cy="453.00" r="4.70" fill="#000"/>
<circle cx="118.70" cy="458.00" r="4.70" fill="#000"/>
<circle cx="143.50" cy="455.70" r="4.70" fill="#000"/>
<text x="41.80" y="481.70" font-size="12.10" textLength="20.00" lengthAdjust="spacingAndGlyphs">0.0</text>
<text x="74.40" y="481.70" font-size="12.10" textLength="20.00" lengthAdjust="spacingAndGlyphs">0.2</text>
<text x="107.40" y="481.70" font-size="12.10" textLength="20.00" lengthAdjust="spacingAndGlyphs">0.4</text>
<text x="140.80" y="481.70" font-size="12.10" textLength="20.00" lengthAdjust="spacingAndGlyphs">0.6</text>
<text x="174.20" y="481.70" font-size="12.10" textLength="20.00" lengthAdjust="spacingAndGlyphs">0.8</text>
<text x="208.70" y="481.70" font-size="12.10" textLength="18.30" lengthAdjust="spacingAndGlyphs">1.0</text>
<text x="242.90" y="481.70" font-size="12.10" textLength="18.30" lengthAdjust="spacingAndGlyphs">1.2</text>
<text x="22.80" y="466.45" font-size="12.10" textLength="20.30" lengthAdjust="spacingAndGlyphs">0.0</text>
<text x="22.80" y="432.35" font-size="12.10" textLength="20.30" lengthAdjust="spacingAndGlyphs">0.2</text>
<text x="22.80" y="399.15" font-size="12.10" textLength="20.30" lengthAdjust="spacingAndGlyphs">0.4</text>
<text x="22.80" y="365.85" font-size="12.10" textLength="20.30" lengthAdjust="spacingAndGlyphs">0.6</text>
<text x="22.80" y="332.55" font-size="12.10" textLength="20.30" lengthAdjust="spacingAndGlyphs">0.8</text>
<text x="24.50" y="299.05" font-size="12.10" textLength="18.60" lengthAdjust="spacingAndGlyphs">1.0</text>
<text x="24.50" y="265.95" font-size="12.10" textLength="18.60" lengthAdjust="spacingAndGlyphs">1.2</text>
<text x="124.40" y="501.10" font-size="14.00" textLength="49.40" lengthAdjust="spacingAndGlyphs">STI571</text>
<text x="0" y="0" font-size="15" textLength="36.20" lengthAdjust="spacingAndGlyphs" transform="translate(14.50,377.70) rotate(-90)">r-IFN</text>
<text x="139.50" y="275.30" font-size="25" textLength="18.30" lengthAdjust="spacingAndGlyphs">C</text>
<text x="168.00" y="275.10" font-size="14.80" textLength="49.40" lengthAdjust="spacingAndGlyphs">TCC-Y</text>
</g>
</svg>
</body></html>
